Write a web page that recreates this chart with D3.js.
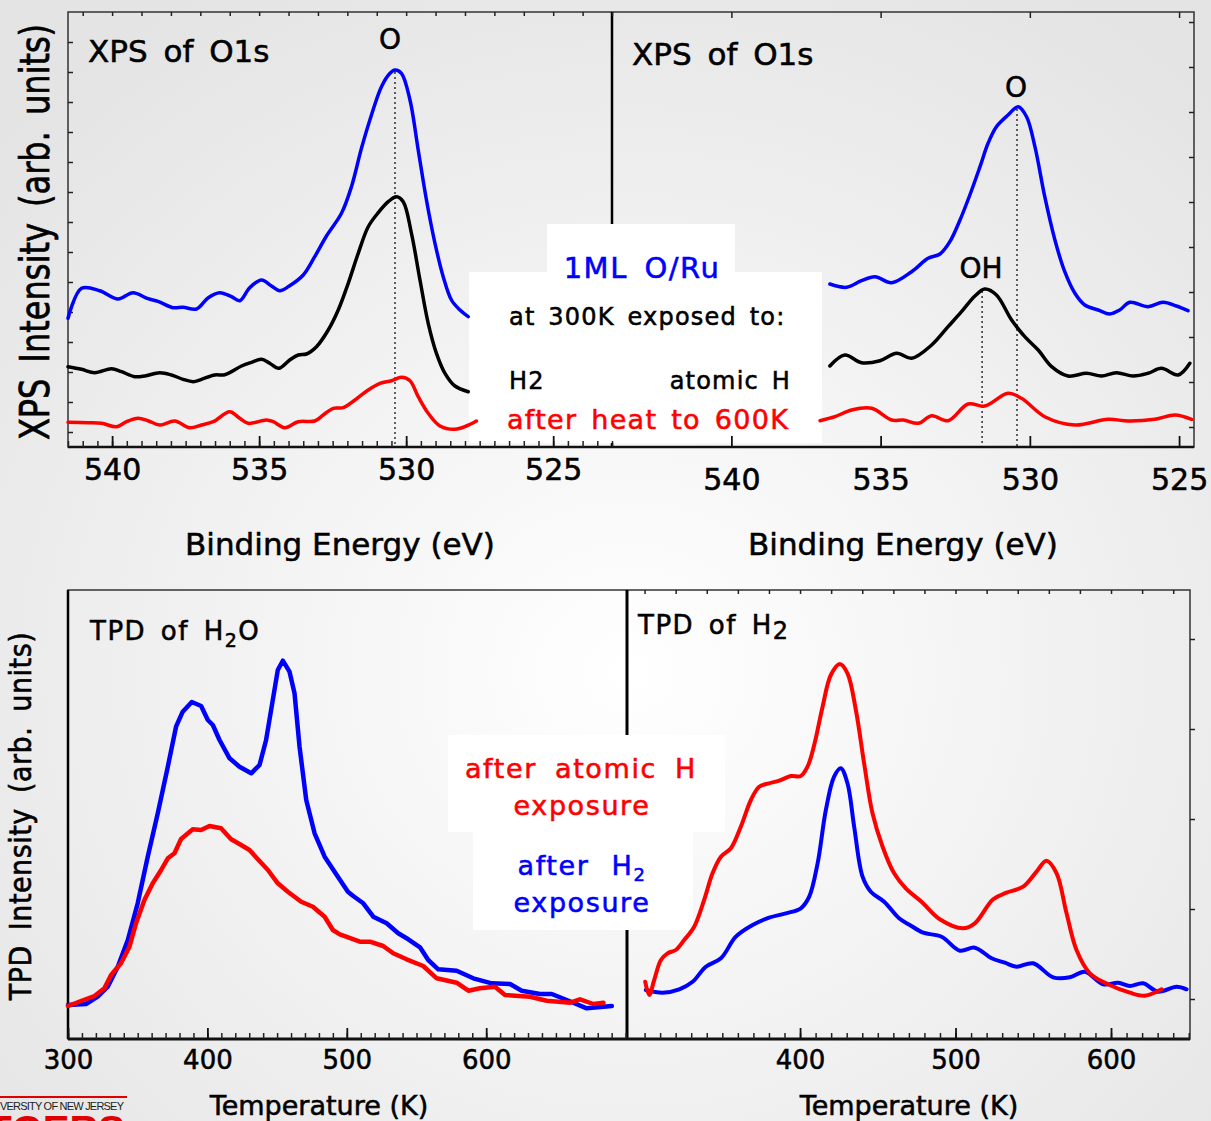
<!DOCTYPE html>
<html>
<head>
<meta charset="utf-8">
<script src="https://cdn.jsdelivr.net/npm/d3@7"></script>
<style>
body { margin: 0; background: #fff; }
svg { display: block; font-family: "DejaVu Sans", sans-serif; }
svg text { stroke-width: 0.55px; }
</style>
</head>
<body>
<svg width="1211" height="1121"></svg>
<script>
// XPS O1s, left panel (H2 exposure): [binding energy eV, intensity]
var h2CleanXps = [[541.50,128.7],[541.04,158.7],[540.42,156.3],[539.80,148],[539.29,154.3],[538.78,148.3],[538.44,145.7],[537.93,139.3],[537.59,139.7],[537.13,138],[536.73,149.3],[536.34,154.3],[535.94,150.3],[535.66,146.3],[535.32,159.3],[534.92,167],[534.58,161],[534.30,156.3],[533.96,161.3],[533.50,172],[533.11,190.3],[532.71,211],[532.20,233.7],[531.86,260.3],[531.52,298.7],[531.18,332],[530.84,360.3],[530.55,373.7],[530.38,377],[530.16,373.7],[529.87,347],[529.59,297],[529.31,247],[529.02,203.7],[528.74,170.3],[528.46,147],[528.17,137],[527.89,130.3]];
var h2ExposedXps = [[541.50,80.3],[541.04,77.7],[540.59,74.3],[540.02,78.3],[539.68,75.3],[539.23,70.3],[538.89,71],[538.38,74.3],[537.98,72],[537.59,67.7],[537.24,65.3],[536.96,67.7],[536.51,72],[536.17,72.3],[535.60,81],[535.26,84.7],[534.92,87.7],[534.64,83.7],[534.33,78.7],[533.96,87],[533.67,92],[533.39,93],[533.05,100.3],[532.65,117],[532.31,137],[531.97,163.7],[531.63,193.7],[531.29,220.3],[530.95,234.3],[530.61,245.3],[530.33,250.3],[530.10,245.3],[529.82,213.7],[529.53,167],[529.25,123.7],[528.97,93.7],[528.68,73.7],[528.34,61],[527.89,55.3]];
var h2HeatedXps = [[541.50,24.7],[540.82,24.3],[540.36,23.7],[539.85,20.3],[539.51,25.3],[539.12,28.7],[538.78,26.3],[538.38,22],[537.87,26],[537.36,19.3],[536.96,22],[536.56,25.3],[536.00,35.3],[535.66,28.7],[535.37,23.7],[534.75,27],[534.52,25.3],[534.13,19.3],[533.67,25.3],[533.11,26],[532.82,32],[532.48,38.7],[532.14,39.3],[531.74,47],[531.29,57],[530.89,63.7],[530.50,66.3],[530.16,69.7],[529.87,66.3],[529.59,50.3],[529.25,33.7],[528.85,21],[528.34,17.7],[527.95,21],[527.61,26]];

// XPS O1s, right panel (atomic H exposure)
var atomCleanXps = [[536.70,163],[536.14,159.7],[535.64,166.3],[535.19,170.3],[534.63,164.3],[533.96,175.3],[533.41,188.7],[533.01,193],[532.68,205.3],[532.34,227],[532.01,252],[531.67,280.3],[531.40,303.7],[531.12,320.3],[530.73,332],[530.39,340.3],[530.11,330.3],[529.83,300.3],[529.50,250.3],[529.16,207],[528.83,175.3],[528.49,153.7],[528.16,142],[527.71,137],[527.32,133],[526.99,137],[526.65,144.7],[526.04,140.3],[525.54,144.7],[525.09,141],[524.70,136.3]];
var atomExposedXps = [[536.70,81],[536.20,92],[535.64,84.3],[535.02,86.3],[534.46,93.7],[533.96,88.7],[533.29,102],[532.74,120.3],[532.29,135.3],[531.84,151],[531.51,158],[531.12,152],[530.61,127],[530.17,110.3],[529.72,97],[529.27,80.3],[528.72,71],[528.10,73.7],[527.60,71],[527.10,74.3],[526.54,71],[526.04,73.7],[525.59,78.7],[525.03,72],[524.64,83.7]];
var atomHeatedXps = [[537.03,26.3],[536.53,30.3],[535.97,37],[535.30,38.7],[534.63,27],[534.24,27],[533.74,23.7],[533.29,31.3],[532.74,26.3],[532.07,43],[531.51,41],[530.73,53.7],[530.28,48.7],[529.50,30.3],[528.49,22],[527.38,27.7],[526.71,26],[525.81,27.7],[525.14,32],[524.58,27.7]];

// TPD of H2O: [temperature K, intensity]
var h2oAfterH2 = [[300,34],[312.9,35],[321.3,42.3],[328.5,52.3],[335.7,72.3],[342.9,99],[350.0,135.7],[357.2,182.3],[364.4,225.7],[371.6,272.3],[377.5,312.3],[382.3,327.3],[388.8,337],[395.5,333],[400.3,319],[403.9,314],[408.7,299],[415.9,280.7],[423.0,272.3],[431.4,265.7],[437.4,274],[442.1,299],[446.9,339],[450.5,369],[454.1,378.3],[458.9,367.3],[462.5,345.7],[466.1,292.3],[470.9,239],[476.9,205.7],[484.1,182.3],[493.6,162.3],[500.8,147.3],[504.6,143],[511.8,135.7],[519.0,122.3],[528.6,115.7],[536.9,105.7],[544.1,99.7],[552.5,91.7],[558.4,79],[565.6,69.7],[578.8,68.3],[590.7,60.7],[604.0,55.7],[617.1,55],[625.5,48.3],[638.6,45],[647.0,45],[657.8,39],[672.1,30.7],[690.1,33]];
var h2oAfterAtomH = [[300,33],[309.3,38],[319.0,43],[326.1,50.7],[330.9,64],[338.0,75.7],[344.1,92.3],[348.8,115.7],[354.8,139],[360.8,155.7],[366.8,169],[371.6,180.7],[376.4,185.7],[381.1,200],[389.5,209.7],[395.5,209],[401.5,213],[409.8,210.7],[417.0,199.7],[423.0,195],[430.2,189],[436.2,179.7],[443.4,169],[450.5,155.7],[457.7,147.3],[467.3,137.3],[475.7,132.3],[484.1,122.3],[490.0,109],[495.0,104.7],[509.4,97.3],[516.6,97.3],[526.1,93],[533.3,85.7],[542.9,79.7],[554.8,73],[564.5,60.7],[578.8,56.3],[587.2,48.3],[595.5,50.7],[606.3,52.3],[613.5,44],[631.4,42.3],[643.4,38.3],[660.2,36.3],[667.3,39.7],[676.9,35],[684.1,36.3]];

// TPD of H2
var h2AfterH2 = [[300.8,49],[311.6,46.3],[322.3,49.7],[330.9,57.3],[339.4,72.3],[349.1,80.7],[358.7,102.3],[369.5,114],[380.1,121.3],[390.9,125.7],[400.5,130.7],[405.9,142.3],[411.3,175.7],[416.6,229],[421.9,262.3],[426.2,270.7],[430.5,255.7],[434.8,212.3],[440.2,162.3],[445.5,147.3],[454.1,137.3],[463.7,120.7],[470.6,114],[479.2,106.3],[491.0,102.3],[502.8,88.3],[512.4,91.3],[523.2,80.7],[531.7,76.3],[539.2,72.3],[549.9,75.7],[562.8,61.7],[573.5,61.7],[583.2,67.3],[594.9,54.7],[604.6,56.3],[612.1,53],[620.6,55.7],[630.3,47.3],[642.1,52.3],[648.6,49.7]];
var h2AfterAtomH = [[300.4,57.3],[303.0,44],[306.2,59],[310.5,79],[314.8,85.7],[320.1,89],[325.5,99],[331.9,112.3],[338.3,139],[343.7,165.7],[349.1,182.3],[355.5,190.7],[361.9,212.3],[368.4,239],[373.7,252.3],[380.1,255.7],[386.6,258.3],[394.1,263],[400.5,263],[404.8,272.3],[409.1,294],[414.5,332.3],[419.8,364],[425.6,375],[430.5,365.7],[435.9,329],[441.2,275.7],[446.6,225.7],[453.1,192.3],[460.5,165.7],[468.0,150.7],[478.1,137.3],[489.9,119.7],[504.9,110.7],[512.4,115.7],[524.2,139.7],[532.8,146.3],[543.5,152.3],[552.1,167.3],[558.5,178.3],[565.0,165.7],[571.4,125.7],[577.8,89],[586.4,65.7],[599.2,54],[612.1,46.3],[621.7,43.3],[632.5,49.7]];

// peak markers
var peakOLeft = 530.38, peakORight = 530.43, peakOH = 531.60;

var xpsTicks = [540, 535, 530, 525];
var tpdTicks = [300, 400, 500, 600];

var svg = d3.select('svg');

var defs = svg.append('defs');
var bg = defs.append('radialGradient').attr('id', 'bg')
    .attr('cx', '52%').attr('cy', '60%').attr('r', '70%');
bg.append('stop').attr('offset', '0%').attr('stop-color', '#ffffff');
bg.append('stop').attr('offset', '100%').attr('stop-color', '#e4e4e4');
svg.append('rect').attr('width', 1211).attr('height', 1121).attr('fill', 'url(#bg)');

var xTL = d3.scaleLinear().domain([541.5, 523.0]).range([68, 612]);
var xTR = d3.scaleLinear().domain([544.0, 524.5]).range([612, 1194]);
var yTop = d3.scaleLinear().domain([0, 435]).range([447, 12]);
var xBL = d3.scaleLinear().domain([300, 701]).range([68, 627]);
var xBR = d3.scaleLinear().domain([288.7, 650.8]).range([627, 1190]);
var yBot = d3.scaleLinear().domain([0, 449]).range([1039, 590]);

// frames
svg.append('rect').attr('x', 68).attr('y', 12).attr('width', 1126).attr('height', 435)
    .attr('fill', 'none').attr('stroke', '#333').attr('stroke-width', 1.5);
svg.append('line').attr('x1', 612).attr('x2', 612).attr('y1', 12).attr('y2', 447)
    .attr('stroke', '#000').attr('stroke-width', 2.5);
svg.append('rect').attr('x', 68).attr('y', 590).attr('width', 1122).attr('height', 449)
    .attr('fill', 'none').attr('stroke', '#333').attr('stroke-width', 1.5);
svg.append('line').attr('x1', 68).attr('x2', 68).attr('y1', 590).attr('y2', 1039)
    .attr('stroke', '#000').attr('stroke-width', 2.5);
svg.append('line').attr('x1', 627).attr('x2', 627).attr('y1', 590).attr('y2', 1039)
    .attr('stroke', '#000').attr('stroke-width', 3);

// white label boxes
var boxes = [[547, 224, 188, 70], [469, 272, 353, 171], [448, 735, 277, 97], [473, 831, 220, 99]];
svg.selectAll('.box').data(boxes).enter().append('rect')
    .attr('x', function(d){ return d[0]; })
    .attr('y', function(d){ return d[1]; })
    .attr('width', function(d){ return d[2]; })
    .attr('height', function(d){ return d[3]; })
    .attr('fill', '#fff');

// axes lines
svg.append('line').attr('x1', 68).attr('x2', 1194).attr('y1', 447).attr('y2', 447)
    .attr('stroke', '#111').attr('stroke-width', 2.5);
svg.append('line').attr('x1', 68).attr('x2', 1190).attr('y1', 1039).attr('y2', 1039)
    .attr('stroke', '#111').attr('stroke-width', 3);

function tickRow(axisFn, scale, vals, size, tx, ty) {
    svg.append('g').attr('transform', 'translate(' + tx + ',' + ty + ')')
        .call(axisFn(scale).tickValues(vals).tickSize(size).tickFormat(''))
        .call(function(g){ g.select('.domain').remove(); })
        .selectAll('line').attr('stroke', '#222').attr('stroke-width', 1.5);
}

function labelRow(scale, vals, y, pad, size) {
    var g = svg.append('g').attr('transform', 'translate(0,' + y + ')')
        .call(d3.axisBottom(scale).tickValues(vals).tickSize(-11).tickPadding(pad));
    g.select('.domain').remove();
    g.selectAll('line').attr('stroke', '#111').attr('stroke-width', 1.8);
    g.selectAll('text').attr('font-family', 'DejaVu Sans').attr('font-size', size)
        .attr('fill', '#000').attr('stroke', '#000');
}

// top-left ticks
tickRow(d3.axisBottom, xTL, d3.range(523, 541.6, 0.5), -6, 0, 447);
tickRow(d3.axisTop, xTL, d3.range(523, 541.6, 1), -4, 0, 12);
tickRow(d3.axisLeft, yTop, d3.range(15, 435, 30), -5, 68, 0);
labelRow(xTL, xpsTicks, 447, 12, 30);
// top-right ticks
tickRow(d3.axisTop, xTR, xpsTicks, -6, 0, 12);
tickRow(d3.axisRight, yTop, d3.range(20, 435, 45), -5, 1194, 0);
labelRow(xTR, xpsTicks, 447, 22, 30);
// bottom-left ticks
tickRow(d3.axisBottom, xBL, d3.range(300, 701, 10), -6, 0, 1039);
labelRow(xBL, tpdTicks, 1039, 12, 26);
// bottom-right ticks
tickRow(d3.axisBottom, xBR, d3.range(300, 651, 10), -6, 0, 1039);
tickRow(d3.axisTop, xBR, d3.range(300, 651, 20), -4, 0, 590);
tickRow(d3.axisLeft, yBot, d3.range(40, 449, 90), -5, 1190, 0);
labelRow(xBR, [400, 500, 600], 1039, 12, 26);

// dotted peak markers
var peaks = [[xTL(peakOLeft), yTop(375)], [xTR(peakORight), yTop(338)], [xTR(peakOH), yTop(156)]];
svg.selectAll('.peak').data(peaks).enter().append('line')
    .attr('x1', function(d){ return d[0]; }).attr('x2', function(d){ return d[0]; })
    .attr('y1', function(d){ return d[1]; }).attr('y2', 447)
    .attr('stroke', '#000').attr('stroke-width', 1.2).attr('stroke-dasharray', '2,3');

// curves
function curve(data, xs, ys, color, width, shape) {
    var line = d3.line()
        .x(function(d){ return xs(d[0]); })
        .y(function(d){ return ys(d[1]); })
        .curve(shape);
    svg.append('path').datum(data).attr('d', line)
        .attr('fill', 'none').attr('stroke', color).attr('stroke-width', width)
        .attr('stroke-linejoin', 'round').attr('stroke-linecap', 'round');
}
var smooth = d3.curveCatmullRom.alpha(0.5);
curve(h2CleanXps, xTL, yTop, '#0000ff', 3.5, smooth);
curve(h2ExposedXps, xTL, yTop, '#000', 3.5, smooth);
curve(h2HeatedXps, xTL, yTop, '#ff0000', 3.5, smooth);
curve(atomCleanXps, xTR, yTop, '#0000ff', 3.5, smooth);
curve(atomExposedXps, xTR, yTop, '#000', 3.5, smooth);
curve(atomHeatedXps, xTR, yTop, '#ff0000', 3.5, smooth);
curve(h2oAfterH2, xBL, yBot, '#0000ff', 4.5, d3.curveLinear);
curve(h2oAfterAtomH, xBL, yBot, '#ff0000', 4.5, d3.curveLinear);
curve(h2AfterH2, xBR, yBot, '#0000ff', 4, smooth);
curve(h2AfterAtomH, xBR, yBot, '#ff0000', 4, smooth);

// text
function txt(x, y, s, size, opts) {
    opts = opts || {};
    var c = opts.color || '#000';
    var t = svg.append('text').attr('x', x).attr('y', y)
        .attr('font-size', size)
        .attr('fill', c).attr('stroke', c)
        .attr('text-anchor', opts.anchor || 'start')
        .attr('letter-spacing', opts.ls || 0)
        .attr('word-spacing', opts.ws || 0)
        .text(s);
    return t;
}

txt(88, 62, 'XPS of O1s', 31, {ws: 6});
txt(632, 65, 'XPS of O1s', 31, {ws: 6});
txt(390, 49, 'O', 28, {anchor: 'middle'});
txt(1016, 97, 'O', 28, {anchor: 'middle'});
txt(981, 278, 'OH', 28, {anchor: 'middle'});

txt(642, 278, '1ML O/Ru', 29, {anchor: 'middle', color: '#0000ff', ls: 1.5, ws: 6});
txt(509, 325, 'at 300K exposed to:', 24, {ls: 1.2, ws: 4});
txt(509, 389, 'H2', 24, {ls: 1.2});
txt(791, 389, 'atomic H', 24, {anchor: 'end', ls: 1.2, ws: 4});
txt(507, 429, 'after heat to 600K', 27, {color: '#ff0000', ls: 1.3, ws: 4});

txt(340, 555, 'Binding Energy (eV)', 31, {anchor: 'middle'});
txt(903, 555, 'Binding Energy (eV)', 31, {anchor: 'middle'});
txt(319, 1115, 'Temperature (K)', 27, {anchor: 'middle'});
txt(909, 1115, 'Temperature (K)', 27, {anchor: 'middle'});

var t1 = txt(90, 640, 'TPD of H', 26, {ls: 1.5, ws: 5});
t1.append('tspan').attr('font-size', 19).attr('dy', 7).text('2');
t1.append('tspan').attr('font-size', 26).attr('dy', -7).text('O');
var t2 = txt(638, 634, 'TPD of H', 26, {ls: 1.5, ws: 5});
t2.append('tspan').attr('font-size', 24).attr('dy', 5).text('2');

txt(581, 778, 'after atomic H', 27, {anchor: 'middle', color: '#ff0000', ls: 1.6, ws: 8});
txt(582, 815, 'exposure', 27, {anchor: 'middle', color: '#ff0000', ls: 1.6});
var t3 = txt(582, 875, 'after H', 27, {anchor: 'middle', color: '#0000ff', ls: 1.6, ws: 12});
t3.append('tspan').attr('font-size', 18).attr('dy', 6).text('2');
txt(582, 912, 'exposure', 27, {anchor: 'middle', color: '#0000ff', ls: 1.6});

// rotated y titles
svg.append('text').attr('transform', 'translate(49,232) scale(1.25,1) rotate(-90)')
    .attr('text-anchor', 'middle').attr('font-size', 32).attr('word-spacing', 6)
    .attr('stroke', '#000')
    .text('XPS Intensity (arb. units)');
svg.append('text').attr('transform', 'translate(31,816) scale(1.12,1) rotate(-90)')
    .attr('text-anchor', 'middle').attr('font-size', 27).attr('letter-spacing', 0.5).attr('word-spacing', 6)
    .attr('stroke', '#000')
    .text('TPD Intensity (arb. units)');

// logo fragment
svg.append('line').attr('x1', 0).attr('x2', 127).attr('y1', 1097).attr('y2', 1097)
    .attr('stroke', '#e00000').attr('stroke-width', 2);
svg.append('text').attr('x', 0).attr('y', 1110).attr('font-size', 11)
    .attr('textLength', 124).attr('fill', '#222').attr('font-family', 'Liberation Sans')
    .text('VERSITY OF NEW JERSEY');
svg.append('text').attr('x', 125).attr('y', 1144).attr('text-anchor', 'end')
    .attr('font-size', 40).attr('font-weight', 'bold').attr('fill', '#e00000')
    .attr('font-family', 'Liberation Sans').text('UTGERS');
</script>
</body>
</html>
